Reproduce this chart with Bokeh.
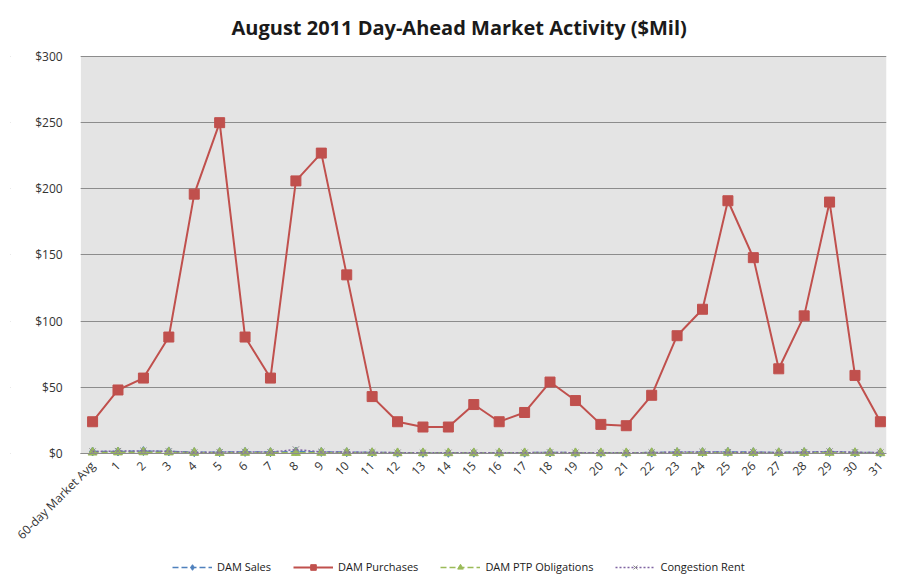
from bokeh.plotting import figure
from bokeh.models import (Legend, LegendItem, Range1d, NumeralTickFormatter, FixedTicker,
                          BoxAnnotation, ColumnDataSource)
from bokeh.embed import file_html
from bokeh.resources import INLINE
import math

categories = ["60-day Market Avg"] + [str(i) for i in range(1, 32)]

dam_purchases = [24, 48, 57, 88, 196, 250, 88, 57, 206, 227, 135, 43, 24, 20, 20, 37,
                 24, 31, 54, 40, 22, 21, 44, 89, 109, 191, 148, 64, 104, 190, 59, 24]
dam_sales = [1.5, 1.5, 1.8, 1.6, 1.0, 1.0, 1.2, 1.0, 1.5, 1.2, 1.0, 0.8, 0.6, 0.5, 0.5, 0.6,
             0.5, 0.6, 0.8, 0.6, 0.5, 0.5, 0.7, 1.0, 1.0, 1.2, 1.0, 0.8, 1.0, 1.2, 0.8, 0.6]
dam_ptp = [0.8, 0.9, 1.0, 0.9, 0.6, 0.5, 0.6, 0.5, 0.5, 0.6, 0.5, 0.4, 0.3, 0.3, 0.3, 0.3,
           0.3, 0.3, 0.4, 0.3, 0.3, 0.3, 0.4, 0.5, 0.5, 0.6, 0.5, 0.4, 0.5, 0.6, 0.4, 0.3]
congestion_rent = [1.5, 1.8, 2.0, 1.6, 0.8, 1.0, 1.2, 1.0, 3.0, 1.2, 1.0, 0.8, 0.6, 0.5, 0.5, 0.6,
                   0.5, 0.6, 0.8, 0.6, 0.5, 0.5, 0.7, 1.0, 1.2, 1.0, 0.9, 0.8, 1.0, 1.5, 0.9, 0.7]

y_ticks = [0, 50, 100, 150, 200, 250, 300]
title_text = "August 2011 Day-Ahead Market Activity ($Mil)"

FONT = "Open Sans"

pos = list(range(len(categories)))
src = ColumnDataSource(dict(x=pos, sales=dam_sales, purch=dam_purchases, ptp=dam_ptp, cr=congestion_rent))

PLOT_LEFT = -0.47   # left edge of the shaded plot area, in category positions
PLOT_RIGHT = 31.24
Y_MAX = 300

# frame covers the whole chart so that rotated labels and legend are drawn inside it
p = figure(frame_width=876, frame_height=536,
           x_range=Range1d(-3.23, PLOT_RIGHT), y_range=Range1d(-99, 306.05),
           output_backend="svg", toolbar_location=None,
           min_border_left=10, min_border_right=3, min_border_top=48, min_border_bottom=0)

p.title.text = title_text
p.title.text_font = FONT
p.title.text_font_size = "20px"
p.title.text_font_style = "bold"
p.title.align = "left"
p.title.offset = 221
p.title.standoff = 15
p.title.text_color = "#1a1a1a"

p.background_fill_color = "white"
p.border_fill_color = "white"
p.outline_line_color = None

# shaded plot area
p.add_layout(BoxAnnotation(left=PLOT_LEFT, bottom=0, top=Y_MAX, fill_color="#E4E4E4", fill_alpha=1,
                           line_color=None, level="image"))

p.xgrid.grid_line_color = None
p.ygrid.grid_line_color = "#8c8c8c"
p.ygrid.grid_line_width = 1
p.ygrid.ticker = FixedTicker(ticks=y_ticks)
# hide grid lines left of the shaded area
p.add_layout(BoxAnnotation(right=PLOT_LEFT, fill_color="white", fill_alpha=1,
                           line_color=None, level="underlay"))

p.yaxis.fixed_location = PLOT_LEFT
p.yaxis.ticker = FixedTicker(ticks=y_ticks)
p.yaxis.formatter = NumeralTickFormatter(format="$0")
p.yaxis.axis_line_color = None
p.yaxis.major_tick_line_color = None
p.yaxis.minor_tick_line_color = None
p.yaxis.major_label_text_font = FONT
p.yaxis.major_label_text_font_size = "12px"
p.yaxis.major_label_text_color = "#333333"
p.yaxis.major_label_standoff = 12

p.xaxis.fixed_location = 0
p.xaxis.bounds = (PLOT_LEFT, PLOT_RIGHT)
p.xaxis.ticker = FixedTicker(ticks=pos)
p.xaxis.major_label_overrides = {i: c for i, c in enumerate(categories)}
p.xaxis.axis_line_color = "#8c8c8c"
p.xaxis.major_tick_line_color = None
p.xaxis.minor_tick_line_color = None
p.xaxis.major_label_orientation = math.pi / 4
p.xaxis.major_label_text_font = FONT
p.xaxis.major_label_text_font_size = "12px"
p.xaxis.major_label_text_color = "#333333"
p.xaxis.major_label_standoff = 4

r_sales_l = p.line("x", "sales", source=src, line_color="#4F81BD", line_width=1.5, line_dash="6 3")
r_sales_m = p.scatter("x", "sales", source=src, marker="diamond", size=9, color="#4F81BD")
r_purch_l = p.line("x", "purch", source=src, line_color="#C0504D", line_width=2)
r_purch_m = p.scatter("x", "purch", source=src, marker="square", size=10, color="#C0504D")
r_ptp_l = p.line("x", "ptp", source=src, line_color="#9BBB59", line_width=1.5, line_dash="6 3")
r_ptp_m = p.scatter("x", "ptp", source=src, marker="triangle", size=9, color="#9BBB59")
r_cr_l = p.line("x", "cr", source=src, line_color="#8064A2", line_width=1.5, line_dash="2 2")
r_cr_m = p.scatter("x", "cr", source=src, marker="x", size=9, line_color="#8c8c8c", line_width=1)

legend = Legend(items=[
    LegendItem(label="DAM Sales", renderers=[r_sales_l, r_sales_m]),
    LegendItem(label="DAM Purchases", renderers=[r_purch_l, r_purch_m]),
    LegendItem(label="DAM PTP Obligations", renderers=[r_ptp_l, r_ptp_m]),
    LegendItem(label="Congestion Rent", renderers=[r_cr_l, r_cr_m]),
], orientation="horizontal", location=(162, 10))
legend.label_text_font = FONT
legend.label_text_font_size = "11px"
legend.label_text_color = "#1a1a1a"
legend.border_line_color = None
legend.background_fill_alpha = 0
legend.glyph_width = 40
legend.glyph_height = 14
legend.label_height = 14
legend.spacing = 22
legend.margin = 0
legend.padding = 0
p.add_layout(legend, "center")

open("out.html", "w").write(file_html(p, INLINE))
